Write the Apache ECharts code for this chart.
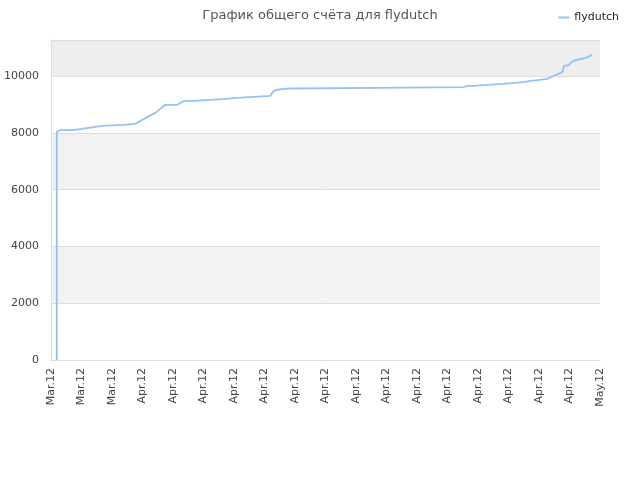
<!DOCTYPE html>
<html>
<head>
<meta charset="utf-8">
<script src="https://cdn.jsdelivr.net/npm/echarts@6/dist/echarts.min.js"></script>
<style>html,body{margin:0;padding:0;background:#fff}#chart{width:640px;height:480px}</style>
</head>
<body>
<div id="chart"></div>
<script>
// подписи оси X (по одной на деление)
var xLabels = ['Mar.12','Mar.12','Mar.12','Apr.12','Apr.12','Apr.12','Apr.12','Apr.12','Apr.12','Apr.12',
               'Apr.12','Apr.12','Apr.12','Apr.12','Apr.12','Apr.12','Apr.12','Apr.12','May.12'];
// изломы линии: положение по оси X (в делениях) и счёт
var scoreX = [0.19,0.19,0.30,0.70,0.73,1.01,1.04,1.45,1.48,1.69,1.72,2.38,2.41,2.76,3.09,3.42,3.75,
              4.15,4.30,4.37,4.70,4.73,5.19,5.22,5.61,5.64,6.02,6.05,6.48,6.51,7.19,7.30,7.41,7.60,
              7.91,7.94,10.70,10.73,13.52,13.66,13.87,13.90,14.29,14.32,14.82,14.85,15.22,15.25,
              15.48,15.51,15.74,15.77,16.01,16.04,16.28,16.31,16.50,16.67,16.78,16.81,16.99,17.05,
              17.16,17.30,17.54,17.74];
var scoreY = [0,8039,8099,8099,8145,8145,8215,8215,8250,8250,8285,8285,8320,8320,8520,8708,8990,
              8990,9095,9130,9130,9166,9166,9190,9190,9225,9225,9260,9260,9306,9306,9482,9517,9550,
              9565,9590,9590,9612,9612,9660,9660,9694,9694,9729,9729,9764,9764,9789,
              9789,9835,9835,9870,9870,9905,9905,9940,10021,10092,10162,10352,10400,10493,
              10552,10587,10645,10751];

var chart = echarts.init(document.getElementById('chart'));
var option = {
    animation: false,
    textStyle: {fontFamily: 'DejaVu Sans'},
    title: {
        text: 'График общего счёта для flydutch',
        left: 'center', top: 4,
        textStyle: {fontSize: 13, fontWeight: 'normal', color: '#555', fontFamily: 'DejaVu Sans'}
    },
    legend: {
        right: 16, top: 7,
        itemWidth: 11, itemHeight: 2, itemGap: 10,
        icon: 'rect',
        textStyle: {fontSize: 11, color: '#222', fontFamily: 'DejaVu Sans'},
        data: ['flydutch']
    },
    grid: {left: 51, right: 40, top: 40, bottom: 120},
    xAxis: {
        type: 'value', min: 0, max: 18, interval: 1,
        axisLine: {lineStyle: {color: '#ddd'}},
        axisTick: {show: false},
        splitLine: {show: false},
        axisLabel: {
            rotate: 90, fontSize: 11, color: '#444', margin: 8,
            formatter: function (v) { return xLabels[Math.round(v)] || ''; }
        }
    },
    yAxis: {
        type: 'value', min: 0, max: 11274, interval: 2000,
        axisLine: {show: true, lineStyle: {color: '#ddd'}},
        axisTick: {show: false},
        axisLabel: {
            fontSize: 11, color: '#444', margin: 12,
            formatter: function (v) { return v % 2000 === 0 ? String(v) : ''; }
        },
        splitLine: {lineStyle: {color: '#ddd'}},
        splitArea: {show: true, areaStyle: {color: ['#fff','#f2f2f2','#fff','#f2f2f2','#fff','#eeeeee']}}
    },
    series: [{
        name: 'flydutch',
        type: 'line',
        showSymbol: false,
        color: '#92c3f5',
        lineStyle: {width: 1.8},
        data: scoreX.map(function (x, i) { return [x, scoreY[i]]; })
    }]
};
chart.setOption(option);
</script>
</body>
</html>
